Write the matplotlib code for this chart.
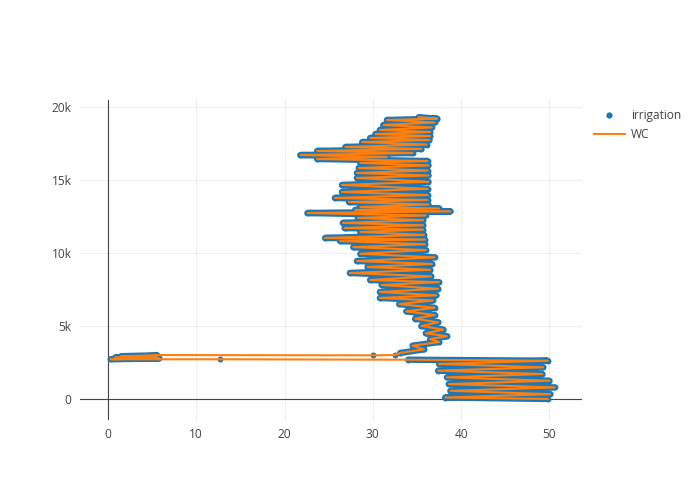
import matplotlib
matplotlib.use("Agg")
import matplotlib.pyplot as plt
from matplotlib.lines import Line2D
import numpy as np

plt.rcParams['font.family'] = ['Open Sans', 'DejaVu Sans']

# ---- data ----
# lower band: successive turning points of the series
low_x = [49.8, 38.2, 50.1, 38.8, 50.6, 38.6, 50.0, 38.4, 49.2, 37.4, 49.3,
         37.5, 49.8, 34.0]
low_y = [0, 100, 330, 560, 790, 1020, 1250, 1480, 1710, 1940, 2170,
         2400, 2620, 2690]

# lone points on the long jumps
jump1_x = [12.7]
jump1_y = [2720]
jump2_x = [30.0, 32.5]
jump2_y = [2990, 3010]

# small cluster of low values near x = 0
clus_x = [0.3, 5.8, 0.8, 5.5, 1.5, 4.8, 5.5]
clus_y = [2720, 2780, 2830, 2880, 2930, 2980, 3010]

# upper band: successive turning points of the series
up_x = [33.1, 35.8, 34.5, 37.5, 36.5, 38.4, 36.0, 38.0, 35.5, 37.4, 34.8, 37.0,
        33.8, 37.0, 33.0, 36.8, 30.8, 37.2, 30.8, 37.4, 31.0, 37.5, 29.7, 36.6,
        27.4, 36.5, 29.4, 36.7, 28.2, 37.0, 28.6, 36.0, 27.8, 35.9, 26.3, 35.9,
        24.6, 35.8, 28.6, 35.7, 26.8, 35.7, 26.6, 35.7, 28.3, 36.0, 22.6, 38.8,
        28.0, 37.5, 28.6, 36.3, 27.3, 36.2, 25.7, 36.2, 26.5, 36.2, 26.5, 36.3,
        28.2, 36.3, 28.2, 36.2, 28.4, 36.3, 28.6, 36.2, 23.7, 31.6, 21.8, 34.5,
        23.7, 35.5, 26.9, 36.1, 28.8, 36.4, 29.7, 36.5, 30.3, 36.5, 30.8, 36.7,
        31.2, 37.0, 31.6, 37.3, 35.2]
up_y = [3150, 3400, 3650, 3900, 4100, 4300, 4500, 4750, 5000, 5250, 5500, 5750,
        6000, 6250, 6500, 6750, 6920, 7100, 7330, 7550, 7810, 8000, 8150, 8400,
        8630, 8850, 9040, 9250, 9450, 9700, 9950, 10200, 10400, 10600, 10820, 10920,
        11030, 11240, 11440, 11600, 11710, 11900, 12060, 12250, 12400, 12570, 12740, 12850,
        12950, 13050, 13150, 13320, 13490, 13630, 13770, 13970, 14180, 14400, 14660, 14880,
        15140, 15310, 15480, 15650, 15820, 16000, 16170, 16300, 16440, 16580, 16710, 16850,
        16990, 17130, 17260, 17430, 17600, 17740, 17880, 18010, 18150, 18290, 18430, 18600,
        18770, 18940, 19110, 19200, 19300]

x_ticks = [0, 10, 20, 30, 40, 50]
y_ticks = [0, 5000, 10000, 15000, 20000]
y_tick_labels = ['0', '5k', '10k', '15k', '20k']

path_x = np.array(low_x + jump1_x + clus_x + jump2_x + up_x)
path_y = np.array(low_y + jump1_y + clus_y + jump2_y + up_y)

blue = '#1f77b4'
orange = '#ff7f0e'

fig = plt.figure(figsize=(7, 5), dpi=100)
ax = fig.add_axes([80 / 700, 80 / 500, 502 / 700, 320 / 500])
ax.set_axisbelow(True)

band_kw = dict(color=blue, lw=4.6, solid_capstyle='round',
               solid_joinstyle='round', marker='o', ms=4.3, mew=0, zorder=2)
ax.plot(low_x, low_y, **band_kw)
ax.plot(clus_x, clus_y, **band_kw)
ax.plot(up_x, up_y, **band_kw)
ax.plot(jump1_x + jump2_x, jump1_y + jump2_y, ls='', marker='o', ms=4.3,
        mew=0, color=blue, zorder=2)
ax.plot(path_x, path_y, color=orange, lw=1.5, zorder=3)

ax.set_xlim(-3.17, 53.7)
ax.set_ylim(-1440, 20480)

ax.set_xticks(x_ticks)
ax.set_xticklabels([str(v) for v in x_ticks])
ax.set_yticks(y_ticks)
ax.set_yticklabels(y_tick_labels)
ax.tick_params(length=0, labelsize=8.6, colors='#444444', pad=6)
ax.grid(True, color='#eeeeee', lw=0.8)
ax.axhline(0, color='#444444', lw=0.8, zorder=1)
ax.axvline(0, color='#444444', lw=0.8, zorder=1)
for s in ax.spines.values():
    s.set_visible(False)

handles = [Line2D([], [], ls='', marker='o', ms=4.5, color=blue, mew=0),
           Line2D([], [], color=orange, lw=1.5)]
leg = fig.legend(handles, ['irrigation', 'WC'], loc='upper left',
                 bbox_to_anchor=(589 / 700, 1 - 104 / 500), frameon=False,
                 fontsize=8.6, handlelength=2.6, handletextpad=0.5,
                 labelspacing=0.55, borderaxespad=0)
for t in leg.get_texts():
    t.set_color('#444444')

fig.savefig('out.png', dpi=100)
